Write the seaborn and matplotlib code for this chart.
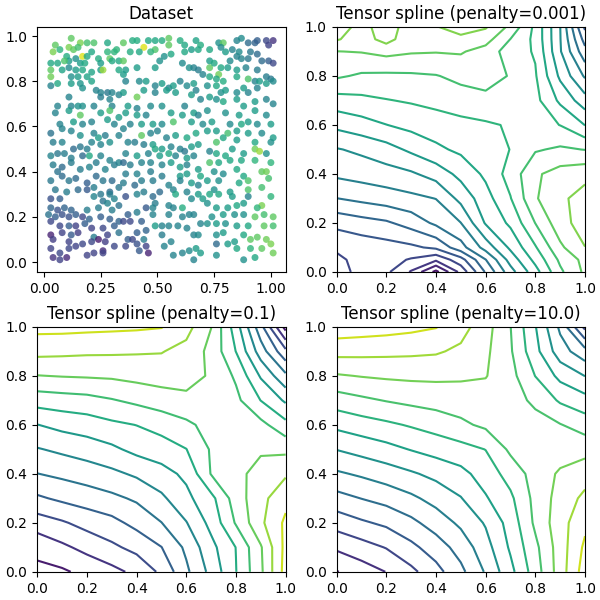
import matplotlib
matplotlib.use("Agg")
import numpy as np
import matplotlib.pyplot as plt
import seaborn as sns

# ---- dataset (colour value 0..1 on viridis)
pts_x = [
    .12,.16,.19,.22,.28,.32,.05,.04,.07,.11,.13,.17,.15,.10,.14,.11,.19,.21,.24,.28,.29,.31,.33,.03,.06,.09,.16,.18,.25,.30,.03,.08,.11,.14,.17,.21,.25,.26,.33,.03,.12,.15,.19,.03,.06,.16,.12,.17,.21,.23,.25,.28,.30,.33,.25,.29,.11,.06,.12,.15,.17,.22,.30,
    .35,.39,.41,.44,.46,.49,.52,.55,.55,.60,.62,.67,.69,.49,.47,.42,.38,.35,.53,.56,.62,.65,.68,.51,.61,.64,.66,.68,.70,.36,.35,.41,.49,.36,.42,.45,.49,.52,.55,.57,.60,.63,.66,.67,.35,.41,.44,.49,.54,.58,.65,.69,.37,.41,.47,.52,.62,
    .73,.77,.79,.78,.85,.87,.90,.93,.94,.98,1.01,.99,.91,.94,.83,.85,.86,.80,.82,.87,.90,.99,1.01,.96,.73,.73,.75,.78,.77,.81,.85,.89,.94,.98,1.0,.73,.76,.79,.76,.85,.90,.93,.95,.72,.78,.80,.85,.88,.90,.94,.98,1.01,.73,.76,.79,.85,.93,.98,1.01,.88,
    .05,.11,.16,.25,.29,.33,.07,.13,.17,.21,.28,.31,.03,.08,.12,.16,.22,.24,.27,.33,.04,.08,.13,.16,.19,.21,.25,.29,.03,.06,.09,.12,.17,.20,.25,.29,.33,.04,.06,.08,.12,.16,.20,.23,.27,.31,.03,.08,.11,.14,.19,.23,.26,.30,.05,.10,.15,.19,.22,.29,.33,
    .36,.41,.45,.56,.61,.66,.68,.38,.43,.48,.52,.57,.65,.70,.35,.43,.47,.50,.54,.58,.63,.67,.37,.40,.44,.48,.49,.52,.56,.60,.62,.65,.68,.36,.41,.46,.51,.55,.58,.63,.66,.35,.38,.43,.47,.52,.56,.60,.63,.68,.36,.41,.47,.52,.60,.63,.69,.35,.40,.43,.48,.55,.60,.65,.68,.44,.51,.57,.63,
    .72,.80,.86,.93,.98,.74,.82,.87,.90,.94,1.0,.72,.76,.81,.85,.90,.96,1.01,.76,.79,.85,.93,1.0,.73,.76,.80,.83,.88,.93,.95,.98,.73,.77,.82,.87,.93,1.0,.75,.79,.85,.96,.98,.88,.72,.77,.86,.90,.99,.75,.82,.90,.96,
    .03,.07,.22,.25,.29,.31,.26,.03,.06,.09,.02,.12,.19,.24,.28,.33,.30,.05,.08,.11,.14,.17,.20,.25,.29,.33,.03,.07,.11,.14,.18,.21,.26,.31,.15,.03,.08,.12,.22,.24,.28,.33,.04,.11,.17,.21,.27,.03,.07,.11,.14,.22,.26,.31,.04,.10,.07,.19,.26,
    .36,.41,.48,.49,.58,.61,.65,.68,.70,.45,.48,.55,.57,.37,.41,.48,.55,.61,.64,.66,.38,.35,.43,.49,.52,.55,.59,.63,.69,.41,.45,.37,.39,.44,.52,.56,.66,.68,.36,.41,.42,.46,.45,.53,.57,.61,.64,.67,.69,.66,
    .73,.77,.83,.90,.96,1.0,.72,.76,.81,.85,.88,.94,.74,.79,.84,.88,.93,.97,1.01,.72,.76,.80,.85,.90,.97,1.01,.76,.79,.84,.88,.91,.94,.98,1.0,.76,.81,.85,.91,.96,.76,.88,.93,1.01,
]
pts_y = [
    .99,.97,.97,.97,.97,.94,.96,.93,.94,.95,.94,.91,.95,.91,.90,.89,.91,.93,.90,.93,.90,.93,.89,.88,.88,.89,.88,.88,.88,.89,.85,.85,.86,.85,.85,.84,.85,.85,.85,.82,.82,.82,.82,.78,.79,.79,.79,.77,.80,.76,.75,.75,.75,.74,.73,.72,.73,.69,.69,.69,.69,.69,.69,
    .97,.98,.98,.95,.98,.98,.98,.99,.96,.98,.96,.98,.96,.94,.93,.93,.93,.89,.91,.92,.93,.94,.94,.89,.88,.86,.86,.85,.83,.85,.83,.86,.86,.80,.80,.80,.78,.79,.77,.78,.80,.78,.79,.76,.75,.73,.76,.75,.76,.75,.74,.72,.69,.68,.69,.69,.69,
    .94,.97,.97,.95,.98,.99,.97,.97,.98,.98,.98,.96,.93,.92,.94,.91,.93,.93,.89,.90,.90,.89,.88,.89,.89,.86,.88,.86,.83,.86,.85,.86,.85,.82,.81,.82,.81,.80,.78,.82,.81,.80,.80,.78,.75,.76,.75,.77,.75,.77,.79,.80,.73,.72,.71,.72,.71,.72,.70,.69,
    .66,.67,.65,.66,.67,.64,.61,.62,.61,.62,.63,.61,.57,.59,.58,.56,.57,.55,.56,.56,.53,.53,.50,.51,.50,.53,.52,.53,.47,.48,.48,.46,.47,.47,.47,.45,.44,.43,.40,.42,.44,.41,.42,.44,.41,.43,.36,.38,.36,.37,.35,.38,.36,.36,.32,.31,.32,.32,.33,.31,.33,
    .66,.65,.65,.66,.65,.66,.65,.61,.61,.61,.61,.62,.62,.61,.59,.56,.57,.58,.55,.56,.55,.57,.53,.53,.52,.52,.50,.50,.51,.50,.49,.51,.52,.48,.47,.48,.47,.48,.47,.46,.47,.44,.43,.44,.44,.43,.44,.42,.43,.41,.39,.39,.40,.38,.38,.39,.38,.35,.34,.36,.36,.34,.36,.35,.34,.31,.31,.32,.31,
    .67,.66,.65,.67,.65,.62,.61,.61,.62,.61,.61,.58,.58,.57,.58,.57,.57,.55,.53,.55,.54,.53,.53,.49,.48,.47,.50,.48,.50,.49,.48,.44,.44,.45,.45,.45,.44,.40,.39,.41,.40,.40,.38,.36,.36,.35,.36,.37,.32,.31,.32,.33,
    .28,.28,.29,.30,.30,.28,.27,.24,.23,.24,.21,.23,.23,.24,.26,.25,.23,.20,.21,.20,.21,.20,.19,.20,.19,.18,.18,.16,.16,.16,.17,.15,.15,.16,.13,.12,.13,.12,.11,.10,.12,.13,.10,.09,.08,.09,.09,.06,.04,.06,.07,.04,.05,.07,.02,.02,.01,.03,.04,
    .29,.30,.29,.26,.30,.24,.28,.30,.28,.24,.24,.25,.24,.21,.22,.21,.21,.20,.21,.21,.18,.18,.18,.16,.16,.16,.16,.15,.17,.13,.14,.10,.10,.10,.12,.09,.12,.12,.07,.08,.05,.04,.07,.07,.03,.04,.05,.06,.04,.01,
    .30,.30,.29,.29,.25,.29,.26,.24,.24,.25,.26,.24,.20,.21,.21,.21,.20,.21,.20,.17,.17,.17,.16,.16,.16,.16,.12,.13,.09,.12,.10,.11,.10,.08,.08,.08,.06,.06,.06,.03,.01,.02,.04,
]
pts_c = [
    .75,.8,.7,.72,.6,.65,.75,.8,.65,.8,.75,.95,.7,.62,.5,.55,.6,.6,.62,.65,.75,.65,.6,.6,.6,.72,.55,.6,.55,.6,.75,.58,.48,.55,.6,.58,.55,.85,.6,.78,.5,.55,.58,.45,.6,.52,.55,.5,.58,.45,.45,.4,.45,.45,.42,.45,.45,.45,.45,.5,.5,.45,.45,
    .75,.62,.62,.95,.6,.6,.62,.75,.75,.62,.6,.58,.62,.72,.65,.6,.62,.75,.5,.6,.6,.55,.6,.5,.48,.5,.45,.42,.45,.55,.55,.55,.55,.45,.48,.55,.45,.55,.45,.55,.45,.48,.55,.45,.55,.78,.55,.45,.55,.55,.55,.45,.55,.45,.48,.5,.45,
    .6,.5,.75,.48,.45,.48,.35,.32,.3,.22,.15,.2,.4,.35,.45,.45,.48,.55,.48,.45,.4,.3,.22,.35,.55,.75,.6,.6,.78,.55,.55,.45,.42,.42,.4,.6,.6,.62,.6,.6,.72,.45,.55,.5,.5,.55,.48,.55,.45,.45,.55,.48,.55,.5,.6,.55,.55,.45,.45,.55,
    .45,.55,.75,.55,.72,.55,.45,.55,.45,.45,.55,.45,.38,.45,.45,.5,.45,.55,.42,.45,.42,.45,.35,.4,.42,.45,.45,.5,.45,.4,.42,.42,.35,.6,.45,.45,.45,.42,.38,.35,.42,.42,.45,.42,.45,.42,.4,.35,.4,.35,.3,.35,.4,.35,.4,.42,.35,.28,.42,.35,.4,
    .55,.55,.45,.55,.55,.55,.45,.45,.55,.55,.48,.72,.55,.48,.45,.75,.45,.45,.45,.55,.6,.6,.45,.42,.42,.55,.6,.55,.45,.45,.4,.55,.55,.45,.55,.45,.55,.6,.45,.55,.45,.35,.42,.45,.45,.45,.55,.55,.45,.55,.42,.45,.42,.42,.55,.55,.6,.42,.35,.42,.42,.45,.45,.55,.45,.42,.35,.45,.45,
    .5,.5,.55,.55,.48,.55,.48,.6,.55,.48,.55,.55,.55,.7,.55,.55,.48,.55,.72,.6,.55,.6,.5,.45,.6,.6,.55,.55,.78,.85,.5,.72,.6,.6,.6,.65,.65,.5,.48,.6,.75,.78,.6,.55,.5,.6,.72,.7,.5,.55,.72,.7,
    .25,.3,.45,.4,.42,.45,.38,.33,.25,.32,.38,.32,.42,.42,.45,.38,.42,.3,.25,.25,.3,.22,.32,.3,.3,.32,.22,.22,.3,.2,.3,.2,.22,.3,.18,.1,.2,.28,.42,.08,.2,.38,.18,.2,.22,.22,.18,.2,.22,.22,.2,.2,.12,.22,.15,.12,.2,.2,.2,
    .25,.45,.35,.42,.6,.62,.48,.55,.55,.28,.45,.45,.45,.3,.42,.45,.45,.45,.45,.45,.22,.22,.3,.55,.45,.45,.45,.45,.45,.3,.32,.3,.22,.42,.42,.45,.45,.48,.22,.25,.28,.1,.2,.45,.45,.45,.48,.55,.55,.45,
    .6,.6,.55,.45,.8,.65,.5,.55,.55,.6,.55,.65,.5,.55,.5,.5,.75,.7,.75,.5,.55,.5,.55,.6,.75,.7,.5,.55,.55,.6,.75,.75,.78,.8,.35,.55,.6,.65,.75,.5,.5,.6,.78,
]

# ---- fitted surfaces (rows: y, columns: x)
grid_x = [0.0, 0.1, 0.2, 0.3, 0.4, 0.5, 0.6, 0.7, 0.8, 0.9, 1.0]
grid_y = [0.0, 0.1, 0.2, 0.3, 0.4, 0.5, 0.6, 0.7, 0.8, 0.9, 1.0]
grid_y_fine = [0.0, 0.05, 0.1, 0.2, 0.3, 0.4, 0.5, 0.6, 0.7, 0.8, 0.9, 0.95, 1.0]

z_001 = [
    [1.6, 2.3, 2.2, 0.9, -1.3, 1.3, 4.1, 6.6, 8.6, 10.8, 12.2],
    [1.8, 2.3, 2.4, 1.9, 1.2, 2.6, 4.97, 7.4, 9.3, 11.2, 12.3],
    [2.15, 2.4, 2.6, 2.8, 3.2, 4.6, 6.4, 8.2, 9.9, 11.8, 12.98],
    [3.3, 3.6, 3.85, 4.4, 5.2, 5.98, 8.1, 9.2, 11.02, 12.6, 13.5],
    [4.98, 5.25, 5.5, 5.75, 6.02, 7.3, 8.6, 9.95, 11.9, 12.8, 13.4],
    [6.2, 6.4, 6.6, 6.85, 7.4, 8.3, 9.2, 10.4, 11.85, 12.4, 12.7],
    [6.93, 7.2, 7.6, 8.2, 8.8, 9.2, 9.55, 10.02, 10.9, 11.15, 10.97],
    [8.25, 8.6, 8.98, 9.3, 9.5, 9.7, 9.85, 10.1, 10.4, 9.98, 8.98],
    [9.57, 9.75, 9.95, 10.1, 10.3, 10.55, 10.8, 10.95, 10.3, 8.8, 7.43],
    [11.15, 10.85, 10.8, 10.85, 10.95, 11.25, 11.3, 10.95, 10.1, 7.8, 5.86],
    [11.98, 12.05, 12.3, 12.1, 12.05, 12.1, 11.6, 10.5, 9.9, 7.1, 4.33],
    [13.1, 12.5, 13.4, 12.3, 12.5, 12.8, 12.4, 10.98, 9.75, 7.05, 3.6],
    [13.3, 12.8, 13.3, 12.7, 12.95, 13.35, 13.1, 11.75, 9.75, 7.02, 2.8],
]
z_01 = [
    [0.75, 0.85, 1.28, 1.7, 2.25, 3.2, 4.8, 6.3, 7.97, 9.8, 12.4],
    [1.29, 1.8, 2.3, 2.8, 3.3, 3.98, 5.2, 6.7, 8.02, 9.9, 12.3],
    [2.5, 2.88, 3.35, 3.7, 4.3, 4.98, 5.95, 7.3, 9.1, 10.8, 12.2],
    [3.84, 4.2, 4.48, 4.77, 5.15, 5.8, 6.75, 7.7, 9.5, 10.7, 11.7],
    [4.98, 5.22, 5.47, 5.77, 6.16, 6.66, 7.2, 9.05, 9.7, 10.4, 10.87],
    [5.93, 6.2, 6.47, 6.8, 7.28, 7.5, 7.98, 9.1, 9.6, 9.85, 9.76],
    [6.98, 7.3, 7.5, 7.8, 8.02, 8.4, 8.82, 9.3, 9.45, 9.3, 8.3],
    [8.43, 8.56, 8.67, 8.93, 9.22, 9.48, 9.65, 9.7, 9.25, 7.98, 6.84],
    [9.97, 10.05, 10.1, 10.15, 10.3, 10.45, 10.55, 9.83, 8.85, 6.88, 5.22],
    [11.3, 11.24, 11.17, 11.15, 11.1, 11.05, 10.68, 9.72, 7.98, 5.5, 3.25],
    [12.3, 12.3, 12.25, 12.2, 12.15, 12.05, 11.37, 10.02, 7.48, 4.35, 0.6],
]
z_10 = [
    [0.95, 1.5, 2.02, 2.75, 3.65, 4.75, 6.1, 7.7, 9.5, 11.5, 13.5],
    [2.17, 2.6, 3.05, 3.75, 4.5, 5.4, 6.6, 8.15, 9.75, 11.5, 13.2],
    [3.42, 3.85, 4.2, 4.75, 5.45, 6.2, 7.1, 8.4, 10.2, 11.6, 12.76],
    [4.65, 5.02, 5.35, 5.8, 6.35, 6.95, 7.9, 8.8, 10.3, 11.4, 12.24],
    [5.85, 6.15, 6.5, 6.87, 7.27, 7.7, 8.45, 9.4, 10.4, 11.15, 11.57],
    [7.03, 7.36, 7.68, 8.05, 8.38, 8.65, 9.02, 10.2, 10.4, 10.5, 10.66],
    [8.25, 8.55, 8.81, 9.1, 9.4, 9.8, 10.2, 10.4, 10.35, 10.05, 9.54],
    [9.5, 9.8, 10.05, 10.25, 10.4, 10.5, 10.55, 10.4, 9.8, 8.86, 8.37],
    [10.9, 11.05, 11.15, 11.2, 11.2, 11.15, 11.05, 10.34, 8.98, 7.72, 6.98],
    [12.34, 12.3, 12.25, 12.2, 12.12, 11.8, 11.2, 10.12, 8.32, 6.45, 5.36],
    [13.6, 13.5, 13.4, 13.25, 13.05, 12.4, 11.4, 10.02, 8.06, 5.8, 2.7],
]

levels_001 = list(range(-1, 14))
levels_01 = list(range(1, 13))
levels_10 = list(range(1, 14))

fig, axes = plt.subplots(2, 2, figsize=(6, 6), dpi=100)
fig.subplots_adjust(left=0.062, right=0.975, top=0.955, bottom=0.047,
                    wspace=0.205, hspace=0.224)

# dataset
ax = axes[0, 0]
sns.scatterplot(x=pts_x, y=pts_y, hue=pts_c, palette="viridis", hue_norm=(0, 1),
                s=25, linewidth=0, alpha=0.8, legend=False, ax=ax)
ax.set_xlim(-0.03, 1.065)
ax.set_ylim(-0.044, 1.04)
ax.set_xticks([0, 0.25, 0.5, 0.75, 1.0])
ax.set_yticks([0, 0.2, 0.4, 0.6, 0.8, 1.0])
ax.set_title("Dataset")

panels = [
    (axes[0, 1], grid_y_fine, z_001, levels_001, (-2, 16.5), "Tensor spline (penalty=0.001)"),
    (axes[1, 0], grid_y, z_01, levels_01, (0, 13), "Tensor spline (penalty=0.1)"),
    (axes[1, 1], grid_y, z_10, levels_10, (0, 14), "Tensor spline (penalty=10.0)"),
]
for ax, gy, z, lev, (lo, hi), title in panels:
    ax.contour(grid_x, gy, np.array(z), levels=lev, cmap="viridis",
               vmin=lo, vmax=hi, linewidths=1.5)
    ax.set_title(title)

fig.savefig("out.png", dpi=100)
